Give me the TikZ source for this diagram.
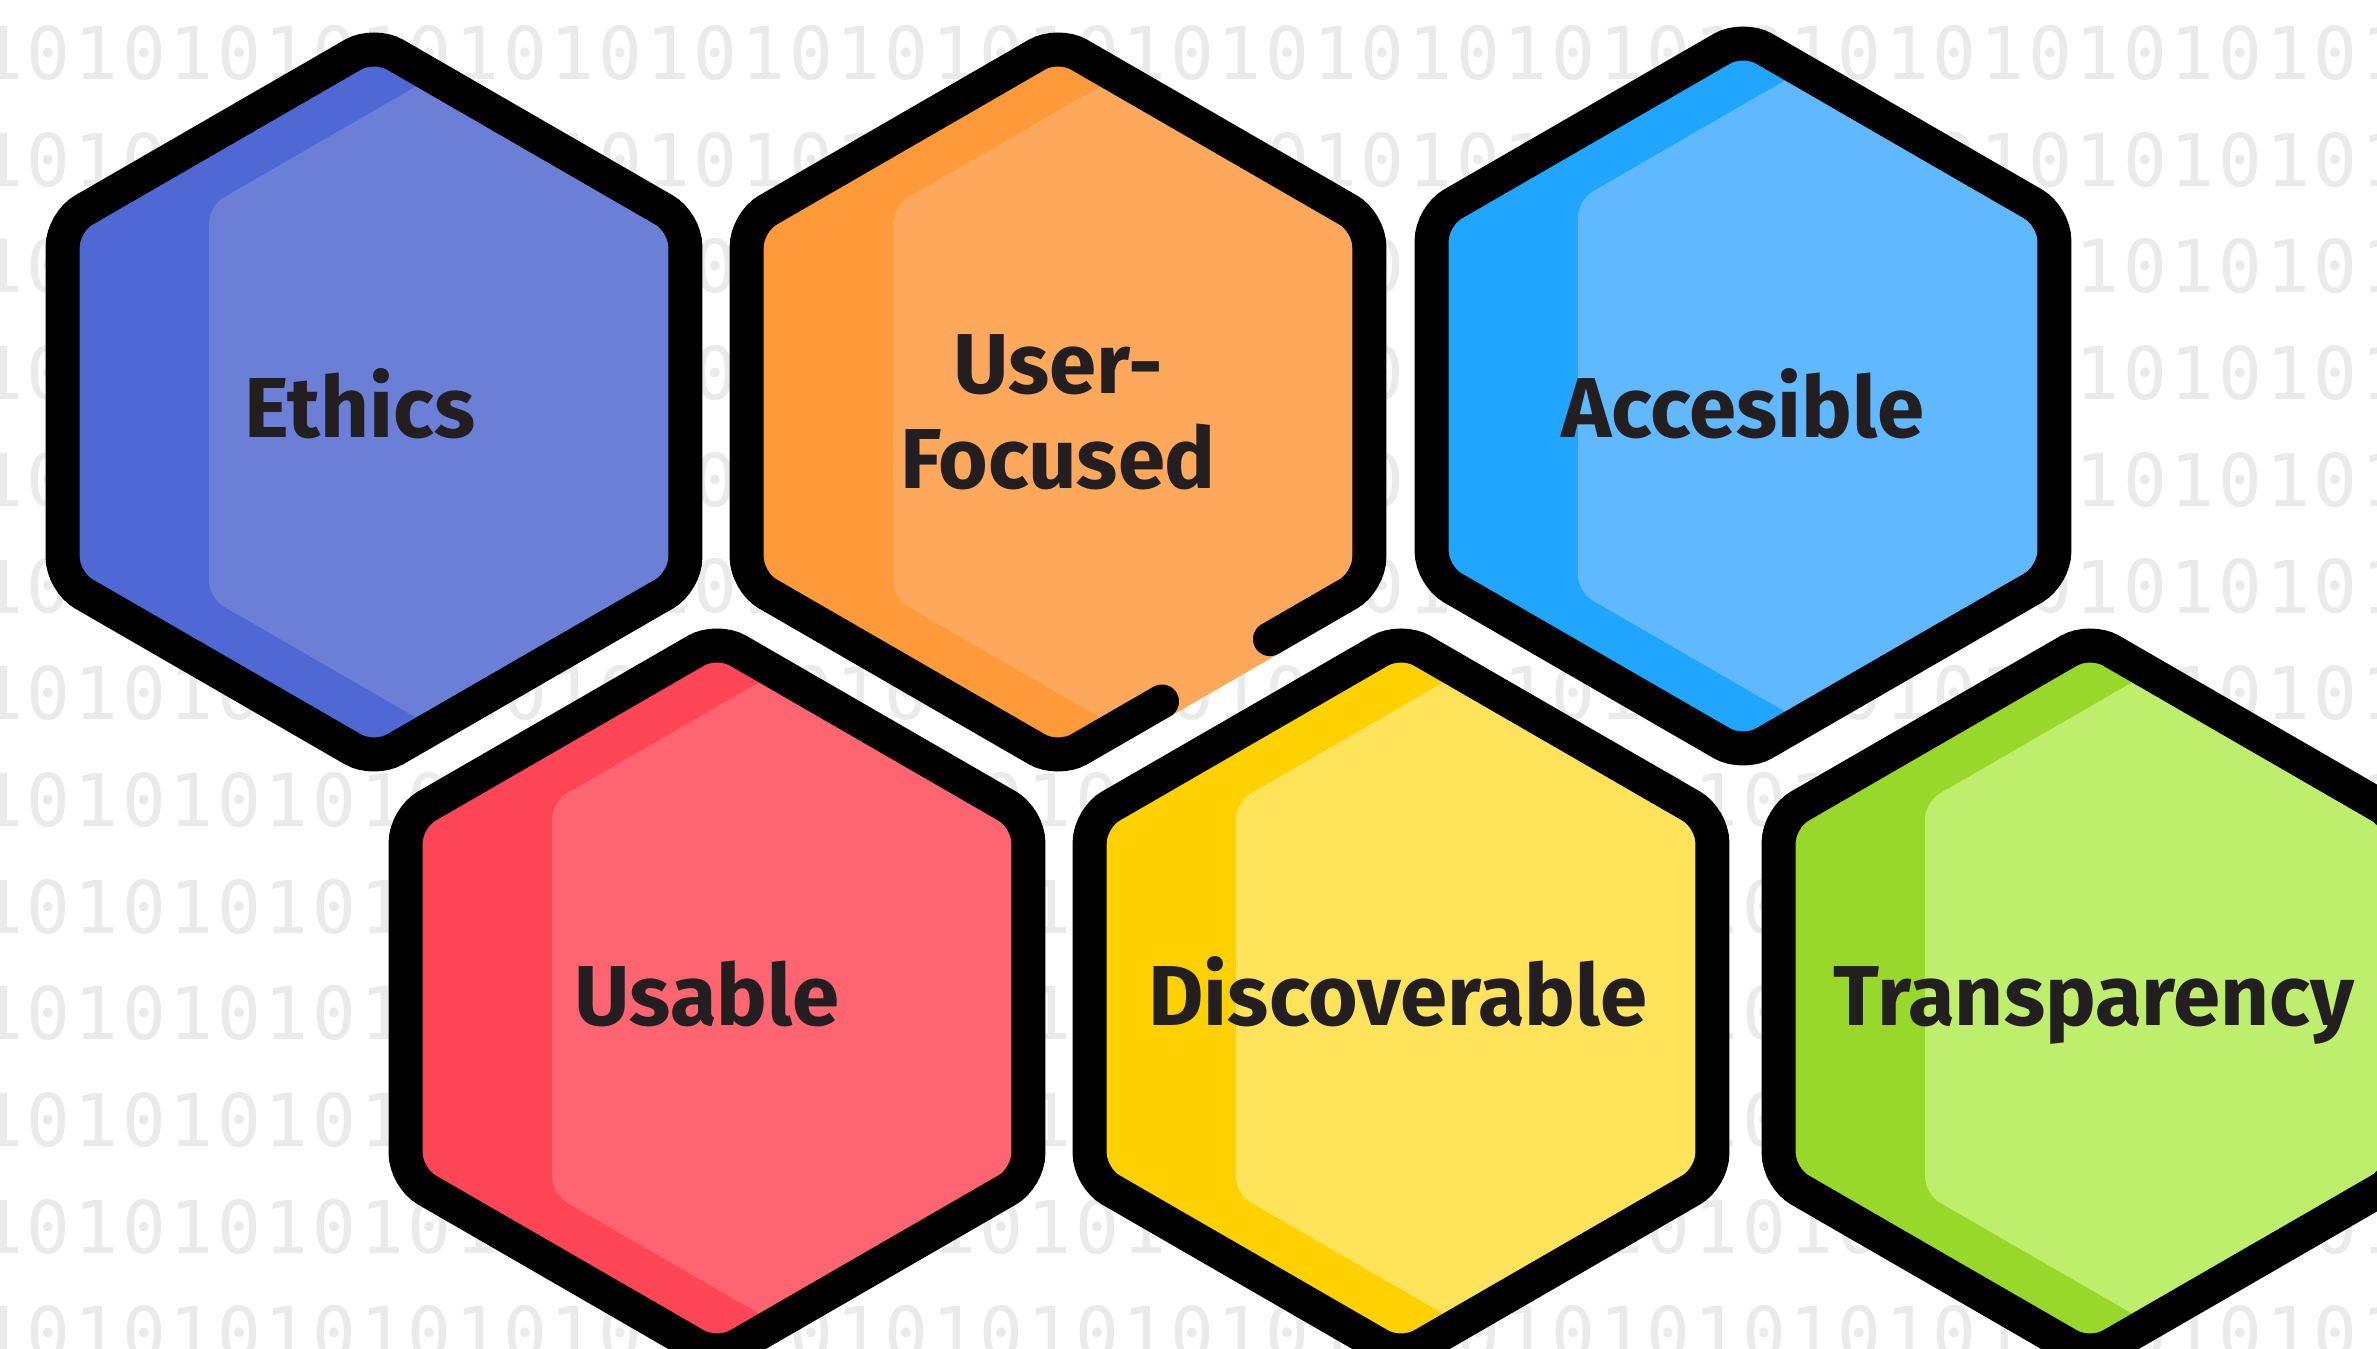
\documentclass[tikz,border=0pt]{standalone}
\usepackage{fontspec}
\setmainfont{Fira Sans}
\newfontfamily\bitsfont{DejaVu Sans Mono}
\definecolor{ethicsdark}{RGB}{79,104,212}
\definecolor{ethicslight}{RGB}{108,127,214}
\definecolor{userdark}{RGB}{255,154,58}
\definecolor{userlight}{RGB}{253,168,91}
\definecolor{accessdark}{RGB}{33,166,255}
\definecolor{accesslight}{RGB}{96,184,255}
\definecolor{usabledark}{RGB}{255,70,86}
\definecolor{usablelight}{RGB}{255,100,113}
\definecolor{discodark}{RGB}{255,209,0}
\definecolor{discolight}{RGB}{255,227,90}
\definecolor{transdark}{RGB}{151,216,42}
\definecolor{translight}{RGB}{189,238,108}
\definecolor{bitgray}{RGB}{234,234,234}
\definecolor{labelink}{RGB}{35,31,32}

\begin{document}
\begin{tikzpicture}[x=0.01cm, y=-0.01cm,
        declare function={inhex(\px,\py,\hx,\hy)=and(abs(\px-\hx)<310, abs(\py-\hy)+0.577*abs(\px-\hx)<338);},
        bitdigit/.style={text=bitgray, inner sep=0pt, font=\bitsfont\fontsize{20.7}{21}\selectfont},
        hexrim/.style={draw=black, line width=0.34cm, rounded corners=0.24cm},
        hexlabel/.style={text=labelink, inner sep=0pt, align=center, font=\bfseries\fontsize{24.2}{27}\selectfont}]
    \useasboundingbox (0,0) rectangle (2377,1349);
    \clip (0,0) rectangle (2377,1349);
    \fill[white] (0,0) rectangle (2377,1349);

    % rows of bits behind everything (the ones fully under a cell are left out)
    \foreach \r in {0,...,12} {
        \foreach \c in {0,...,50} {
            \pgfmathsetmacro{\bx}{1+47.65*\c}
            \pgfmathsetmacro{\by}{53+106.7*\r}
            \pgfmathtruncatemacro{\hid}{inhex(\bx,\by,374,402)+inhex(\bx,\by,1058,402)+inhex(\bx,\by,1743,396)
                +inhex(\bx,\by,717,998)+inhex(\bx,\by,1401,998)+inhex(\bx,\by,2090,998)}
            \pgfmathtruncatemacro{\bitval}{1-mod(\c,2)}
            \ifnum\hid=0
                \node[bitdigit] (bit-\r-\c) at (\bx,\by) {\bitval};
            \fi
        }
    }

    % cells: dark body, light face, label
    \foreach \name/\cx/\cy/\dk/\lt/\anc/\dx/\dy/\txt in {
            ethics/374/402/ethicsdark/ethicslight/base/-14/36/Ethics,
            userfocused/1058/402/userdark/userlight/center/0/10/User-\\Focused,
            accesible/1743/396/accessdark/accesslight/base/0/42/Accesible,
            usable/717/998/usabledark/usablelight/base/-10/28/Usable,
            discoverable/1401/998/discodark/discolight/base/-3/28/Discoverable,
            transparency/2090/998/transdark/translight/base/4/28/Transparency} {
        \begin{scope}[shift={(\cx,\cy)}]
            \fill[\dk, rounded corners=0.24cm] (311.3,0) \foreach \a in {30,90,150,210,270,330} {-- (\a:359.5)} -- cycle;
            \begin{scope}
                \clip (90:340) \foreach \a in {150,210,270,330,30} {-- (\a:340)} -- cycle;
                \fill[\lt, rounded corners=0.17cm] (514,0) -- (514,-196) -- (174.5,-392) -- (-165,-196)
                    -- (-165,196) -- (174.5,392) -- (514,196) -- cycle;
            \end{scope}
            \node[hexlabel, anchor=\anc] (\name) at (\dx,\dy) {\txt};
        \end{scope}
    }

    % black rims
    \foreach \cx/\cy in {374/402, 1743/396, 717/998, 1401/998, 2090/998}
        \draw[hexrim, shift={(\cx,\cy)}] (311.3,0) \foreach \a in {30,90,150,210,270,330} {-- (\a:359.5)} -- cycle;

    % the orange rim is broken at the lower right
    \begin{scope}[shift={(1058,402)}]
        \draw[userlight, line width=0.34cm] (104,299.5) -- (212,237.1);
        \draw[hexrim, line cap=round] (212,237.1) -- (311.3,179.75) -- (311.3,-179.75) -- (0,-359.5)
            -- (-311.3,-179.75) -- (-311.3,179.75) -- (0,359.5) -- (104,299.5);
    \end{scope}
\end{tikzpicture}
\end{document}
